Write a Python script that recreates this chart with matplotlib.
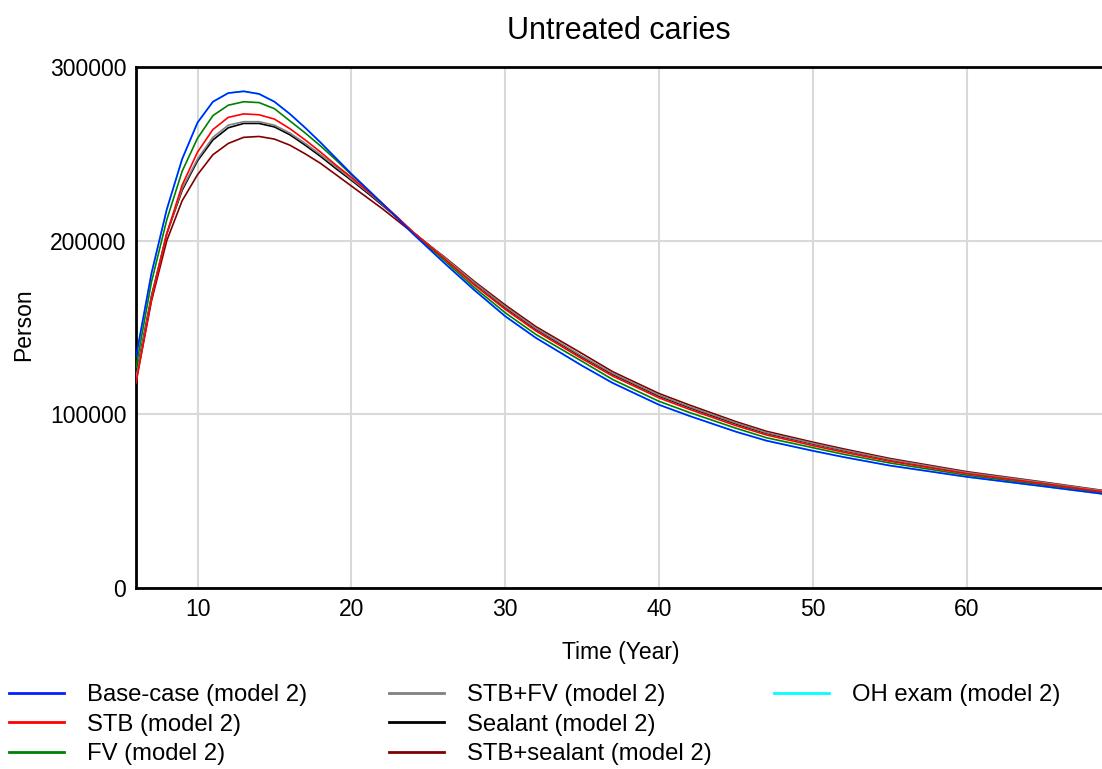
import matplotlib
matplotlib.use("Agg")
import matplotlib.pyplot as plt
from matplotlib.lines import Line2D

plt.rcParams['font.family'] = ['Liberation Sans', 'DejaVu Sans']

# time axis (years) and the seven simulated runs, values in persons
years = [6, 7, 8, 9, 10, 11, 12, 13, 14, 15, 16, 17, 18, 19, 20, 21, 22, 23, 24,
         26, 28, 30, 32, 35, 37, 40, 42, 45, 47, 50, 52, 55, 60, 65, 69]

base_case = [133000, 181000, 218000, 247000, 268000, 280000, 285000, 286000, 284500,
             280000, 273000, 265000, 256500, 247500, 238500, 230000, 221500, 213000,
             204000, 187500, 171500, 156500, 144000, 128000, 118000, 105500, 99000,
             90000, 84800, 79000, 75400, 70500, 64000, 58500, 54000]
stb = [118000, 166000, 204000, 232000, 251000, 264000, 271000, 273000, 272500,
       270000, 264500, 258000, 251000, 243500, 236500, 229000, 221500, 213500,
       205000, 190000, 174500, 160500, 148000, 132000, 122000, 109500, 102800,
       93500, 88100, 82000, 78200, 73000, 65800, 60000, 55200]
fv = [127000, 176000, 212000, 240000, 259000, 272000, 278000, 280000, 279500,
      276000, 269000, 262000, 254500, 246500, 238000, 230000, 221500, 213000,
      204500, 189000, 173000, 158500, 146000, 130500, 120000, 107500, 101000,
      92000, 86500, 80800, 77000, 72000, 65000, 59300, 54700]
stb_fv = [121000, 167000, 204000, 230000, 247000, 259500, 266500, 268500, 268500,
          266500, 262000, 256000, 249500, 242500, 235500, 228500, 221000, 213000,
          205000, 190700, 175800, 162000, 149500, 133500, 123500, 111000, 104300,
          95000, 89400, 83300, 79400, 74000, 66500, 60700, 55800]
sealant = [122000, 168000, 204000, 229000, 246000, 258000, 265000, 267500, 267500,
           265500, 261000, 255000, 248500, 241500, 234800, 227800, 220500, 213000,
           205000, 190500, 175500, 161500, 149000, 133000, 123000, 110500, 103800,
           94500, 89000, 83000, 79100, 73700, 66300, 60500, 55600]
stb_sealant = [119000, 165000, 200000, 223000, 238000, 249500, 256000, 259500, 260000,
               258500, 255000, 250000, 244500, 238000, 231500, 225000, 218500, 211500,
               204500, 191000, 176500, 163000, 150500, 135000, 124500, 112000, 105300,
               95800, 90200, 84000, 80100, 74600, 67000, 61000, 56000]
# OH exam run sits under the base case
oh_exam = base_case

labels = ['Base-case (model 2)', 'STB (model 2)', 'FV (model 2)',
          'STB+FV (model 2)', 'Sealant (model 2)', 'STB+sealant (model 2)',
          'OH exam (model 2)']
colors = ['#0022ff', '#ff0000', '#008000', '#808080', '#000000', '#800000', '#00ffff']
series = [base_case, stb, fv, stb_fv, sealant, stb_sealant, oh_exam]

W, H = 1102, 769
fig = plt.figure(figsize=(W / 100, H / 100), dpi=100)
ax = fig.add_axes([136 / W, (H - 588) / H, (W - 136) / W, (588 - 67) / H])

# cyan first so that it ends up underneath
ax.plot(years, oh_exam, color=colors[6], lw=1.2, zorder=2)
for i in [5, 4, 3, 2, 1, 0]:
    ax.plot(years, series[i], color=colors[i], lw=1.2, zorder=3 + (6 - i))

ax.set_xlim(6, 68.8)
ax.set_ylim(0, 300000)
ax.set_xticks([10, 20, 30, 40, 50, 60])
ax.set_yticks([0, 100000, 200000, 300000])
ax.set_yticklabels(['0', '100000', '200000', '300000'])
ax.tick_params(length=0, labelsize=16.5, pad=7)
ax.grid(True, color='#d9d9d9', lw=1.5)
ax.set_axisbelow(True)
for s in ['left', 'top', 'bottom']:
    ax.spines[s].set_linewidth(2)
    ax.spines[s].set_color('black')
ax.spines['right'].set_visible(False)

ax.set_title('Untreated caries', fontsize=22, pad=20)
ax.set_xlabel('Time (Year)', fontsize=16.5)
ax.xaxis.set_label_coords(0.502, -0.102)
ax.set_ylabel('Person', fontsize=16.5)
ax.yaxis.set_label_coords(-0.104, 0.505)

# legend in three columns placed like the original
handles = [Line2D([], [], color=c, lw=2) for c in colors]
cols = [[0, 1, 2], [3, 4, 5], [6]]
col_x = [9, 389, 774]
for idx, x0 in zip(cols, col_x):
    fig.legend([handles[k] for k in idx], [labels[k] for k in idx],
               loc='upper left', bbox_to_anchor=(x0 / W, 1 - 684 / H),
               frameon=False, fontsize=17.2, borderpad=0, borderaxespad=0,
               handlelength=2.3, handletextpad=0.95, labelspacing=0.32)

fig.savefig('out.png', dpi=100)
